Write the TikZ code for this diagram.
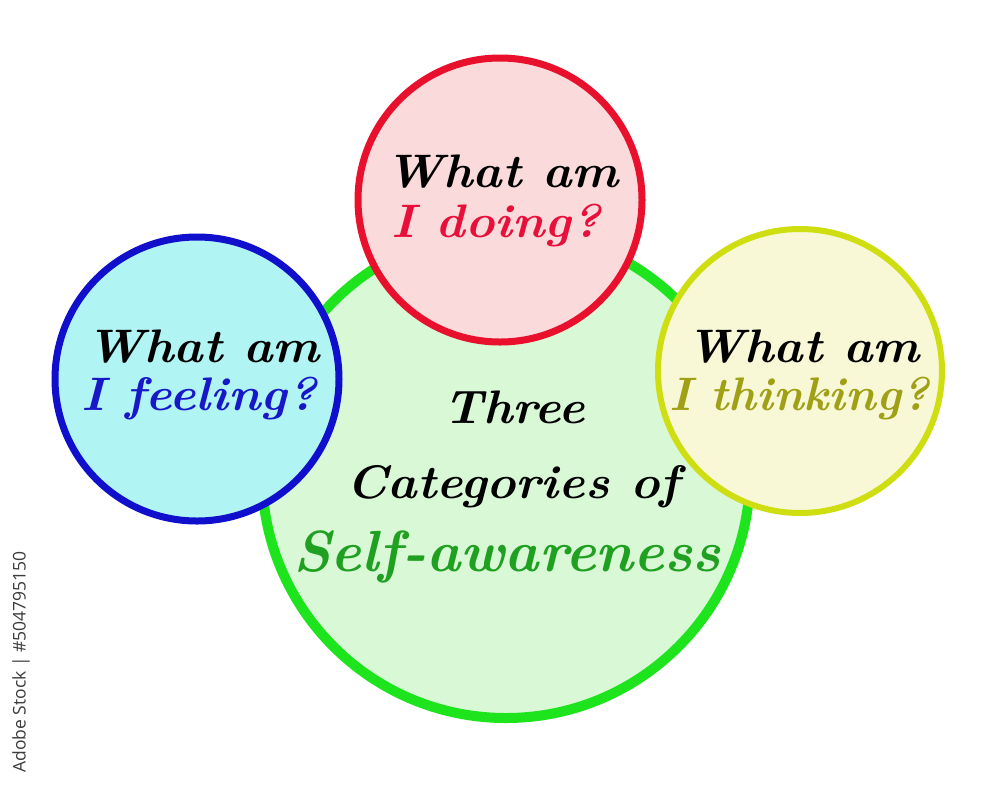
\documentclass[tikz,border=0pt]{standalone}
\usepackage{fontspec}
\newfontfamily\wmfont{Open Sans}
\newcommand{\widetxt}[1]{\scalebox{1.06}[1]{#1}}
\begin{document}
\begin{tikzpicture}[x=1pt,y=-1pt,
  ring/.style={circle,inner sep=0pt},
  lbl/.style={font=\fontsize{47}{50}\selectfont\bfseries\itshape,inner sep=0pt,anchor=base},
  ]
\definecolor{gstroke}{RGB}{30,228,30}
\definecolor{gfill}{RGB}{216,248,214}
\definecolor{rstroke}{RGB}{232,16,44}
\definecolor{rfill}{RGB}{250,218,218}
\definecolor{bstroke}{RGB}{16,16,204}
\definecolor{bfill}{RGB}{176,244,244}
\definecolor{ystroke}{RGB}{206,222,16}
\definecolor{yfill}{RGB}{248,248,214}
\definecolor{rtext}{RGB}{232,16,58}
\definecolor{btext}{RGB}{24,24,200}
\definecolor{ytext}{RGB}{160,160,22}
\definecolor{gtext}{RGB}{32,160,32}
\definecolor{wm}{RGB}{60,60,60}
\fill[white] (0,0) rectangle (1000,788);
\useasboundingbox (0,0) rectangle (1000,788);

\node[ring,draw=gstroke,fill=gfill,line width=10pt,minimum size=488pt] (green) at (506,474) {};
\node[ring,draw=rstroke,fill=rfill,line width=7pt,minimum size=284pt] (red) at (500,200) {};
\node[ring,draw=bstroke,fill=bfill,line width=7pt,minimum size=284pt] (blue) at (197,379) {};
\node[ring,draw=ystroke,fill=yfill,line width=6pt,minimum size=284pt] (yellow) at (800,371) {};

\node[lbl] (r1) at (502,187) {\widetxt{What am}};
\node[lbl,text=rtext] (r2) at (496,237) {\widetxt{I doing?}};
\node[lbl] (b1) at (203,362) {\widetxt{What am}};
\node[lbl,text=btext] (b2) at (199,410) {\widetxt{I feeling?}};
\node[lbl] (y1) at (803,362) {\widetxt{What am}};
\node[lbl,text=ytext] (y2) at (799,410) {I thinking?};

\node[lbl] (g1) at (514,423) {\widetxt{Three}};
\node[lbl] (g2) at (513,498) {\widetxt{Categories of}};
\node[lbl,font=\fontsize{58}{62}\selectfont\bfseries\itshape,text=gtext] (g3) at (507,571) {Self-awareness};

\node[font=\wmfont\fontsize{17.5}{18}\selectfont,text=wm,rotate=90,inner sep=0pt] (wmark) at (21,662) {Adobe Stock | \#504795150};
\end{tikzpicture}
\end{document}
